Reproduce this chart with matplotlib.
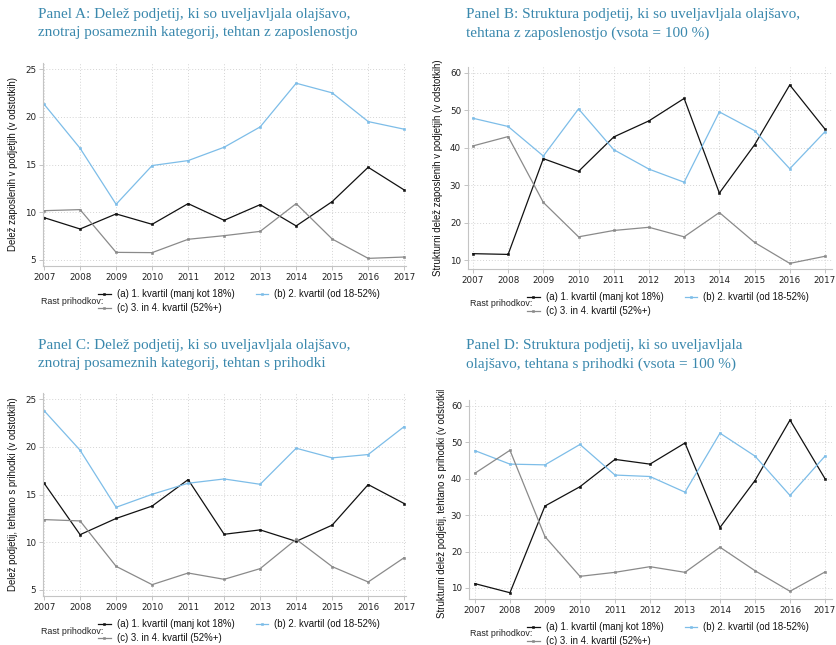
import numpy as np
import matplotlib
matplotlib.use('Agg')
import matplotlib.pyplot as plt
from matplotlib.transforms import Bbox

years = list(range(2007, 2018))

# Panel A: delez zaposlenih, tehtan z zaposlenostjo
a_q1 = [9.44, 8.25, 9.83, 8.74, 10.91, 9.16, 10.80, 8.57, 11.12, 14.72, 12.34]
a_q2 = [21.33, 16.71, 10.84, 14.90, 15.42, 16.82, 18.95, 23.53, 22.52, 19.51, 18.71]
a_q34 = [10.17, 10.28, 5.80, 5.77, 7.17, 7.55, 8.00, 10.91, 7.20, 5.17, 5.31]

# Panel B: struktura, tehtana z zaposlenostjo
b_q1 = [11.7, 11.5, 37.1, 33.7, 42.9, 47.2, 53.2, 27.9, 40.8, 56.8, 45.0]
b_q2 = [47.9, 45.7, 37.8, 50.4, 39.5, 34.3, 30.8, 49.6, 44.6, 34.4, 44.3]
b_q34 = [40.5, 43.0, 25.4, 16.2, 17.9, 18.75, 16.2, 22.7, 14.7, 9.1, 11.0]

# Panel C: delez podjetij, tehtan s prihodki
c_q1 = [16.2, 10.8, 12.5, 13.8, 16.57, 10.84, 11.3, 10.1, 11.8, 16.05, 14.06]
c_q2 = [23.8, 19.65, 13.67, 15.03, 16.19, 16.64, 16.08, 19.86, 18.85, 19.2, 22.13]
c_q34 = [12.38, 12.24, 7.48, 5.56, 6.78, 6.12, 7.24, 10.31, 7.45, 5.84, 8.39]

# Panel D: struktura, tehtana s prihodki
d_q1 = [11.2, 8.7, 32.5, 37.8, 45.3, 44.0, 49.8, 26.6, 39.5, 56.1, 40.0]
d_q2 = [47.7, 44.0, 43.8, 49.4, 41.0, 40.6, 36.3, 52.5, 46.2, 35.4, 46.2]
d_q34 = [41.5, 47.8, 24.1, 13.2, 14.3, 15.85, 14.3, 21.2, 14.75, 9.1, 14.4]

labels = ['(a) 1. kvartil (manj kot 18%)', '(b) 2. kvartil (od 18-52%)',
          '(c) 3. in 4. kvartil (52%+)']
colors = ['#111111', '#7dbde8', '#8a8a8a']

titles = ['Panel A: Delež podjetij, ki so uveljavljala olajšavo,\nznotraj posameznih kategorij, tehtan z zaposlenostjo',
          'Panel B: Struktura podjetij, ki so uveljavljala olajšavo,\ntehtana z zaposlenostjo (vsota = 100 %)',
          'Panel C: Delež podjetij, ki so uveljavljala olajšavo,\nznotraj posameznih kategorij, tehtan s prihodki',
          'Panel D: Struktura podjetij, ki so uveljavljala\nolajšavo, tehtana s prihodki (vsota = 100 %)']
ylabels = ['Delež zaposlenih v podjetjih (v odstotkih)',
           'Strukturni delež zaposlenih v podjetjih (v odstotkih)',
           'Delež podjetij, tehtano s prihodki (v odstotkih)',
           'Strukturni delež podjetij, tehtano s prihodki (v odstotkih)']

W, H = 837, 645
fig = plt.figure(figsize=(W / 100, H / 100), dpi=100)

def px_axes(x0, y0, x1, y1):
    return fig.add_axes([x0 / W, 1 - y1 / H, (x1 - x0) / W, (y1 - y0) / H])

# panel geometry in pixels: axes box, limits, title corner, y label x, legend (rast x, handle x, row1 y)
panels = [
    dict(box=(43, 63, 406, 266), xlim=(2006.97, 2017.05), ylim=(4.37, 25.65), yt=[5, 10, 15, 20, 25],
         data=(a_q1, a_q2, a_q34), title=(38, 8), ylab_x=13, leg=(41, 98, 294)),
    dict(box=(468, 67, 832, 269), xlim=(2006.86, 2017.2), ylim=(7.6, 61.6), yt=[10, 20, 30, 40, 50, 60],
         data=(b_q1, b_q2, b_q34), title=(466, 8), ylab_x=438, leg=(470, 527, 297)),
    dict(box=(43, 393, 406, 596), xlim=(2006.97, 2017.05), ylim=(4.37, 25.65), yt=[5, 10, 15, 20, 25],
         data=(c_q1, c_q2, c_q34), title=(38, 339), ylab_x=13, leg=(41, 98, 624)),
    dict(box=(469, 400, 832, 599), xlim=(2006.83, 2017.2), ylim=(6.98, 61.6), yt=[10, 20, 30, 40, 50, 60],
         data=(d_q1, d_q2, d_q34), title=(466, 339), ylab_x=442, leg=(470, 527, 627)),
]

for i, p in enumerate(panels):
    ax = px_axes(*p['box'])
    for vals, col, lab in zip(p['data'], colors, labels):
        ax.plot(years, vals, color=col, lw=0.9, marker='s', ms=2.0, mew=0.4, label=lab)
    ax.set_xlim(*p['xlim'])
    ax.set_ylim(*p['ylim'])
    ax.set_xticks(years)
    ax.set_yticks(p['yt'])
    ax.grid(True, linestyle=(0, (1, 2)), color='#d4d4d4', lw=0.7)
    ax.set_axisbelow(True)
    for s in ['top', 'right']:
        ax.spines[s].set_visible(False)
    for s in ['left', 'bottom']:
        ax.spines[s].set_color('#c4c4c4')
        ax.spines[s].set_linewidth(0.8)
    ax.tick_params(colors='#c4c4c4', labelcolor='#222222', labelsize=6.3, length=3, width=0.7, pad=2)

    # y axis label, centred on the axes box
    x0, y0, x1, y1 = p['box']
    t = fig.text(p['ylab_x'] / W, 1 - (y0 + y1) / 2 / H, ylabels[i], rotation=90, ha='center', va='center',
                 fontsize=6.9, color='#111111', family='Liberation Sans')
    if i == 3:
        t.set_clip_box(Bbox([[0, 0], [W, H - 390]]))
        t.set_clip_on(True)

    fig.text(p['title'][0] / W, 1 - p['title'][1] / H, titles[i], ha='left', va='top',
             fontsize=11, color='#3a88ad', family='Liberation Serif', linespacing=1.5)

    rx, hx, ry = p['leg']
    fig.text(rx / W, 1 - (ry + 7) / H, 'Rast prihodkov:', ha='left', va='center', fontsize=6.4,
             color='#222222', family='Liberation Sans')
    h, l = ax.get_legend_handles_labels()
    leg = fig.legend([h[0], h[2], h[1]], [l[0], l[2], l[1]], ncol=2, frameon=False,
                     loc='upper left', bbox_to_anchor=(hx / W, 1 - (ry - 5) / H),
                     prop={'family': 'Liberation Sans', 'size': 6.9}, handlelength=1.35, handletextpad=0.6,
                     columnspacing=2.2, labelspacing=0.45, borderaxespad=0, borderpad=0)
    for txt in leg.get_texts():
        txt.set_color('#111111')

fig.savefig('out.png', dpi=100)
